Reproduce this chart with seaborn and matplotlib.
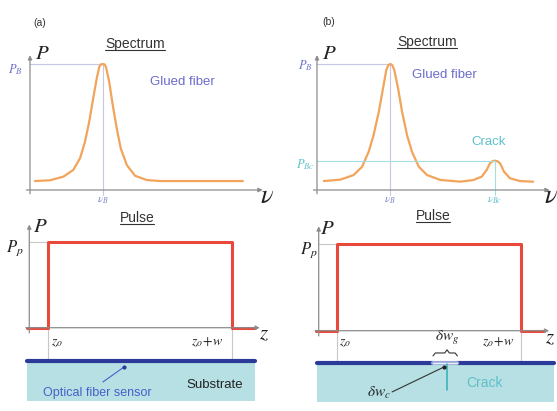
import numpy as np
import pandas as pd
import matplotlib.pyplot as plt
import seaborn as sns
from matplotlib.patches import Rectangle
from matplotlib.lines import Line2D

# spectrum (a): glued fiber only (nu in arbitrary units, P normalised to P_B)
nu_a = [0.21, 0.85, 1.42, 1.84, 2.13, 2.34, 2.52, 2.69, 2.84, 2.95, 3.02, 3.09, 3.17,
        3.23, 3.37, 3.52, 3.69, 3.86, 4.12, 4.47, 4.97, 5.53, 9.06]
p_a = [0.071, 0.077, 0.106, 0.159, 0.252, 0.383, 0.542, 0.728, 0.886, 0.979, 0.997, 1.0, 0.997,
       0.979, 0.859, 0.675, 0.490, 0.331, 0.198, 0.113, 0.079, 0.071, 0.071]

# spectrum (b): glued fiber + crack peak
nu_b = [0.29, 0.99, 1.56, 1.92, 2.20, 2.41, 2.63, 2.81, 2.95, 3.04, 3.12, 3.20, 3.29,
        3.45, 3.62, 3.83, 4.04, 4.33, 4.68, 5.24, 6.09, 6.65, 7.01, 7.22, 7.36, 7.47,
        7.57, 7.68, 7.79, 7.96, 8.21, 8.64, 9.20]
p_b = [0.071, 0.082, 0.119, 0.185, 0.304, 0.437, 0.621, 0.807, 0.952, 0.992, 1.0, 0.992, 0.952,
       0.807, 0.621, 0.437, 0.304, 0.185, 0.119, 0.080, 0.066, 0.079, 0.106, 0.159, 0.212, 0.228,
       0.233, 0.228, 0.212, 0.145, 0.093, 0.071, 0.066]

nu_B = 3.1
P_B = 1.0
nu_Bc = 7.57
P_Bc = 0.23

# rectangular pump pulse along z
z_o = 0.8
w = 8.0
z_pulse = [-0.1, z_o, z_o, z_o + w, z_o + w, 9.8]
p_pulse = [0, 0, 1, 1, 0, 0]
P_p = 1.0

crack_z = 5.58
gap = [4.97, 6.03]

W, H = 557, 411
C_AX = '#8c8c8c'
C_GUIDE = '#c4c8e4'
C_BLUE_TXT = '#6a6ccc'
C_CYAN_TXT = '#5fc0c8'
C_ORANGE = '#f2a45a'
C_RED = '#e8493b'
C_FIBER = '#2c3b9a'
C_SUB = '#b6e0e3'

sns.set_theme(style="white")
plt.rcParams['font.family'] = ['Liberation Sans', 'DejaVu Sans']
plt.rcParams['mathtext.fontset'] = 'stix'

fig = plt.figure(figsize=(W / 100, H / 100), dpi=100)


def panel_ax(box, ox, oy, sx, sy):
    x0, y0, x1, y1 = box
    ax = fig.add_axes([x0 / W, 1 - y1 / H, (x1 - x0) / W, (y1 - y0) / H])
    ax.set_xlim((x0 - ox) / sx, (x1 - ox) / sx)
    ax.set_ylim((oy - y1) / sy, (oy - y0) / sy)
    ax.axis('off')
    return ax


def arrow(ax, start, end):
    ax.annotate('', xy=end, xytext=start, annotation_clip=False,
                arrowprops=dict(arrowstyle='-|>', color=C_AX, lw=0.9,
                                mutation_scale=6, shrinkA=0, shrinkB=0))


def math(ax, x, y, s, size=10, color='#222222', **kw):
    ax.text(x, y, s, fontsize=size, color=color, ha='center', va='center', **kw)


# ---------------- spectra ----------------
sa = panel_ax((0, 0, 277, 205), 30, 190, 23.5, 126)
sb = panel_ax((277, 0, 557, 205), 317, 190, 23.5, 126)

for ax, nu, p, nu_lab in [(sa, nu_a, p_a, 10.08), (sb, nu_b, p_b, 9.95)]:
    arrow(ax, (-0.15, 0), (9.9, 0))
    arrow(ax, (0, -0.03), (0, 1.07))
    ax.plot([0, nu_B], [P_B, P_B], color=C_GUIDE, lw=0.8)
    ax.plot([nu_B, nu_B], [P_B, -0.04], color=C_GUIDE, lw=0.8)
    sns.lineplot(x=nu, y=p, sort=False, estimator=None, ax=ax, color=C_ORANGE, lw=1.6)
    math(ax, 0.51, 1.087, r'$P$', size=15)
    math(ax, nu_B, -0.085, r'$\nu_B$', size=8, color='#7f86c8')
    ax.text(nu_lab, -0.05, r'$\nu$', fontsize=19, color='#222222', ha='center', va='center',
            clip_on=False)

math(sa, -0.64, 0.952, r'$P_B$', size=9, color='#6b73c8')
sa.text(6.47, 0.857, 'Glued fiber', fontsize=9.5, color=C_BLUE_TXT, ha='center', va='center')

sb.plot([0, nu_Bc], [P_Bc, P_Bc], color='#a6dde0', lw=0.8)
sb.plot([nu_Bc, nu_Bc], [P_Bc, -0.04], color='#a6dde0', lw=0.8)
math(sb, -0.51, 0.984, r'$P_B$', size=9, color='#6b73c8')
math(sb, -0.51, 0.198, r'$P_{Bc}$', size=9, color=C_CYAN_TXT)
math(sb, nu_Bc, -0.085, r'$\nu_{Bc}$', size=8, color=C_CYAN_TXT)
sb.text(5.40, 0.913, 'Glued fiber', fontsize=9.5, color=C_BLUE_TXT, ha='center', va='center')
sb.text(7.32, 0.381, 'Crack', fontsize=9.5, color=C_CYAN_TXT, ha='center', va='center')

# ---------------- pulses ----------------
pa = panel_ax((0, 205, 277, 411), 29.3, 327.7, 23, 86)
pb = panel_ax((277, 205, 557, 411), 318.7, 330.7, 23, 87)

for ax in (pa, pb):
    arrow(ax, (-0.15, 0), (10.02, 0))
    arrow(ax, (0, -0.06), (0, 1.2))
    ax.plot([0, z_o], [P_p, P_p], color='#c8c8c8', lw=0.8)
    for zz in (z_o, z_o + w):
        ax.plot([zz, zz], [0, -0.37], color='#c8c8c8', lw=0.8)
    sns.lineplot(x=z_pulse, y=p_pulse, sort=False, estimator=None, ax=ax, color=C_RED, lw=2.2)

# (a) substrate and fiber
pa.add_patch(Rectangle((-0.1, -0.852), 9.91, 0.454, facecolor=C_SUB, edgecolor='none'))
pa.plot([-0.1, 9.81], [-0.387, -0.387], color=C_FIBER, lw=3)
math(pa, 0.47, 1.171, r'$P$', size=15)
math(pa, -0.62, 0.927, r'$P_p$', size=12)
math(pa, 1.2, -0.166, r'$z_o$', size=10)
math(pa, 7.73, -0.166, r'$z_o\!+\!w$', size=10)
math(pa, 10.2, -0.073, r'$z$', size=15)
pa.text(8.07, -0.666, 'Substrate', fontsize=9.5, color='#222222', ha='center', va='center')
pa.text(2.94, -0.759, 'Optical fiber sensor', fontsize=9, color='#4a5ec8', ha='center', va='center')
pa.plot([3.2, 4.12], [-0.631, -0.457], color='#4a5ec8', lw=0.8)
pa.plot([4.12], [-0.457], 'o', color=C_FIBER, ms=2)

# (b) substrate, fiber with gap and crack
pb.add_patch(Rectangle((-0.07, -0.82), 10.3, 0.437, facecolor=C_SUB, edgecolor='none'))
pb.plot([-0.07, gap[0]], [-0.371, -0.371], color=C_FIBER, lw=3)
pb.plot([gap[1], 10.23], [-0.371, -0.371], color=C_FIBER, lw=3)
pb.plot(gap, [-0.371, -0.371], color='#9aa6d8', lw=3)
pb.plot(gap, [-0.371, -0.371], color='#e8f0f8', lw=1)
pb.plot([crack_z, crack_z], [-0.38, -0.68], color='#3fb2ba', lw=1.2)
brace_z = [gap[0], gap[0] + 0.1, crack_z - 0.1, crack_z, crack_z + 0.1, gap[1] - 0.1, gap[1]]
brace_p = [-0.29, -0.256, -0.256, -0.22, -0.256, -0.256, -0.29]
pb.plot(brace_z, brace_p, color='#333333', lw=0.8)
math(pb, 0.36, 1.18, r'$P$', size=15)
math(pb, -0.42, 0.928, r'$P_p$', size=12)
math(pb, 1.14, -0.13, r'$z_o$', size=10)
math(pb, 5.58, -0.085, r'$\delta w_g$', size=11)
math(pb, 7.79, -0.13, r'$z_o\!+\!w$', size=10)
math(pb, 10.05, -0.084, r'$z$', size=15)
pb.text(7.23, -0.6, 'Crack', fontsize=10, color=C_CYAN_TXT, ha='center', va='center')
math(pb, 2.62, -0.716, r'$\delta w_c$', size=11)
pb.plot([3.19, 5.45], [-0.704, -0.417], color='#333333', lw=0.8)
pb.plot([5.45], [-0.417], 'o', color='#222222', ms=2)

# ---------------- panel labels and titles ----------------
fig.text(40 / W, 1 - 23 / H, '(a)', fontsize=7.5, color='#333333', ha='center', va='center')
fig.text(329 / W, 1 - 22 / H, '(b)', fontsize=7.5, color='#333333', ha='center', va='center')
titles = []
for px, py, s in [(135, 44, 'Spectrum'), (427, 42, 'Spectrum'),
                  (137, 218, 'Pulse'), (433, 216, 'Pulse')]:
    titles.append(fig.text(px / W, 1 - py / H, s, fontsize=10, color='#333333',
                           ha='center', va='center'))

fig.canvas.draw()
r = fig.canvas.get_renderer()
for t in titles:
    bb = t.get_window_extent(r).transformed(fig.transFigure.inverted())
    fig.add_artist(Line2D([bb.x0, bb.x1], [bb.y0 + 0.5 / H] * 2, color='#333333', lw=0.8))

fig.savefig('out.png', dpi=100)
